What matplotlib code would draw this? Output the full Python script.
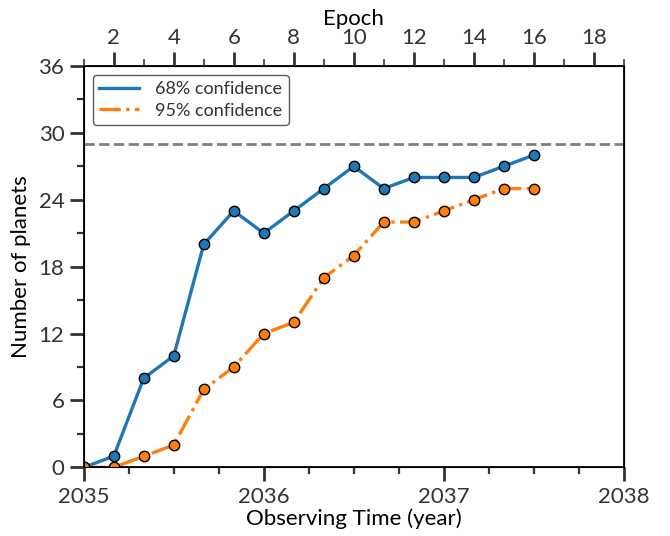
import numpy as np
import matplotlib
matplotlib.use("Agg")
import matplotlib.pyplot as plt
from matplotlib.ticker import MultipleLocator

plt.rcParams['font.family'] = ['Lato', 'DejaVu Sans']

# survey epochs, one every two months starting in 2035
epochs = np.arange(1, 17)
years = 2035 + (epochs - 1) / 6.0

n68 = [0, 1, 8, 10, 20, 23, 21, 23, 25, 27, 25, 26, 26, 26, 27, 28]
n95 = [0, 0, 1, 2, 7, 9, 12, 13, 17, 19, 22, 22, 23, 24, 25, 25]
n_total = 29

blue = '#1f77b4'
orange = '#ff7f0e'
tick_col = '#333333'

fig = plt.figure(figsize=(6.7, 5.36), dpi=100)
ax = fig.add_axes([0.125, 0.128, 0.806, 0.749])

ax.axhline(n_total, color='#808080', ls='--', lw=2.0, zorder=1)
ax.plot(years, n68, color=blue, lw=2.4, label='68% confidence', zorder=2)
ax.plot(years, n95, color=orange, lw=2.4, ls='-.', label='95% confidence', zorder=2)
ax.plot(years, n68, 'o', color=blue, mec='black', mew=1.0, ms=7.5, zorder=3)
ax.plot(years, n95, 'o', color=orange, mec='black', mew=1.0, ms=7.5, zorder=3)

ax.set_xlim(2035, 2038)
ax.set_ylim(0, 36)
ax.xaxis.set_major_locator(MultipleLocator(1))
ax.xaxis.set_minor_locator(MultipleLocator(0.25))
ax.yaxis.set_major_locator(MultipleLocator(6))
ax.yaxis.set_minor_locator(MultipleLocator(3))

ax.tick_params(which='major', direction='out', length=10, width=2, color=tick_col,
               labelsize=16, labelcolor=tick_col, pad=4)
ax.tick_params(which='minor', direction='out', length=5, width=1.6, color=tick_col)
ax.set_xlabel('Observing Time (year)', fontsize=16, labelpad=1)
ax.set_ylabel('Number of planets', fontsize=16, labelpad=5)

for s in ax.spines.values():
    s.set_linewidth(1.3)

ax2 = ax.twiny()
ax2.set_xlim(1, 19)
ax2.xaxis.set_major_locator(MultipleLocator(2))
ax2.xaxis.set_minor_locator(MultipleLocator(1))
ax2.tick_params(which='major', direction='out', length=10, width=2, color=tick_col,
                labelsize=16, labelcolor=tick_col, pad=3)
ax2.tick_params(which='minor', direction='out', length=5, width=1.2, color=tick_col)
ax2.set_xlabel('Epoch', fontsize=16, labelpad=2)

leg = ax.legend(loc='upper left', fontsize=13, frameon=True, fancybox=True,
                handlelength=2.2, borderpad=0.35, labelspacing=0.3, handletextpad=0.9)
leg.get_frame().set_edgecolor(tick_col)
leg.get_frame().set_linewidth(1.0)
for t in leg.get_texts():
    t.set_color(tick_col)

fig.savefig('out.png', dpi=100)
